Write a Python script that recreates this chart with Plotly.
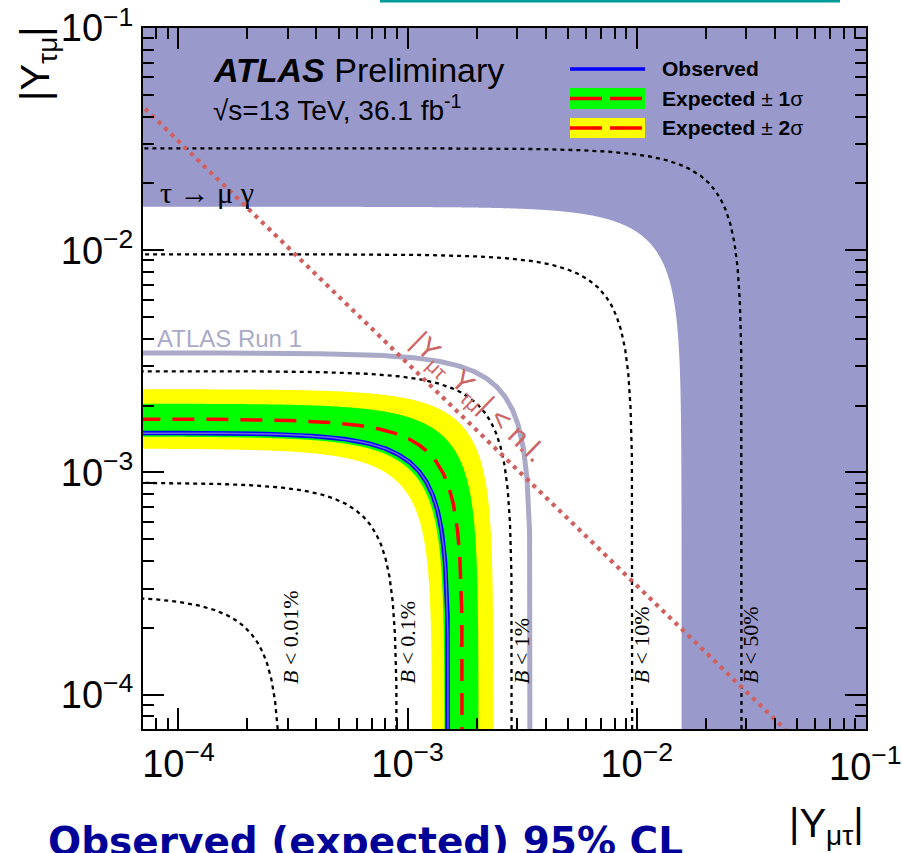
import numpy as np
import plotly.graph_objects as go

# Axis range for both |Y_mu tau| and |Y_tau mu|
axis_min = 7e-5
axis_max = 1e-1
decade_ticks = [1e-4, 1e-3, 1e-2, 1e-1]
decade_labels = ["10<sup>−4</sup>", "10<sup>−3</sup>", "10<sup>−2</sup>", "10<sup>−1</sup>"]

# Limits expressed as the radius sqrt(|Y_mt|^2 + |Y_tm|^2)
taumugamma_r = 1.57e-2          # indirect tau -> mu gamma bound
run1_r = 3.45e-3                # ATLAS Run 1 limit
observed_r = 1.51e-3            # observed 95% CL
expected_r = 1.74e-3            # expected 95% CL
expected_1sigma = [1.45e-3, 2.04e-3]
expected_2sigma = [1.28e-3, 2.37e-3]

# Branching-ratio iso-lines
br_labels = ["0.01%", "0.1%", "1%", "10%", "50%"]
br_radius = [2.8e-4, 9.0e-4, 2.86e-3, 9.6e-3, 2.88e-2]
br_label_x = [290, 407, 521, 641, 750]   # label centres (px)

# Naturalness bound |Y_mt Y_tm| = m_mu m_tau / v^2
naturalness = 3.1e-6

W, H = 902, 853
L, R, T, B = 143, 866, 28, 729


def px(x):
    return (x - L) / (R - L)


def py(y):
    return (B - y) / (B - T)


def arc(r, n=800):
    th = np.linspace(0, np.pi / 2, n)
    return np.maximum(r * np.cos(th), 1e-7), np.maximum(r * np.sin(th), 1e-7)


def band(r_in, r_out):
    xo, yo = arc(r_out)
    xi, yi = arc(r_in)
    return np.concatenate([xo, xi[::-1]]), np.concatenate([yo, yi[::-1]])


fig = go.Figure()

# tau -> mu gamma excluded region (outside the circle)
ax_, ay_ = arc(taumugamma_r)
fig.add_trace(go.Scatter(
    x=np.concatenate([ax_, [1e-7, 1, 1]]),
    y=np.concatenate([ay_, [1, 1, 1e-7]]),
    fill="toself", fillcolor="#9999cc", mode="none", hoverinfo="skip"))

# expected bands
for (lo, hi), col in [(expected_2sigma, "#ffff00"), (expected_1sigma, "#00ff00")]:
    bx, by = band(lo, hi)
    fig.add_trace(go.Scatter(x=bx, y=by, fill="toself", fillcolor=col,
                             mode="none", hoverinfo="skip"))

# expected limit
ex, ey = arc(expected_r)
fig.add_trace(go.Scatter(x=ex, y=ey, mode="lines",
                         line=dict(color="#ff0000", width=3.5, dash="22px,12px"),
                         hoverinfo="skip"))

# observed limit
ox, oy = arc(observed_r)
fig.add_trace(go.Scatter(x=ox, y=oy, mode="lines",
                         line=dict(color="#0000ff", width=4.5), hoverinfo="skip"))
fig.add_trace(go.Scatter(x=ox, y=oy, mode="lines",
                         line=dict(color="#6a6ad8", width=1.5), hoverinfo="skip"))

# branching-ratio iso-lines
for r in br_radius:
    cx, cy = arc(r)
    fig.add_trace(go.Scatter(x=cx, y=cy, mode="lines",
                             line=dict(color="black", width=2.3, dash="4px,4px"),
                             hoverinfo="skip"))

# Run 1 limit
rx, ry = arc(run1_r)
fig.add_trace(go.Scatter(x=rx, y=ry, mode="lines",
                         line=dict(color="#aaaac8", width=5), hoverinfo="skip"))

# naturalness line
nx = np.array([axis_min * 0.5, axis_max * 2])
fig.add_trace(go.Scatter(x=nx, y=naturalness / nx, mode="lines",
                         line=dict(color="#d06060", width=4.2, dash="4px,5px"),
                         hoverinfo="skip"))

tick_font = dict(family="Liberation Sans", size=38, color="black")
axis_common = dict(
    type="log", range=[np.log10(axis_min), np.log10(axis_max) + 0.0008],
    automargin=False,
    showgrid=False, zeroline=False, showline=True, linecolor="black",
    linewidth=2, mirror="allticks", ticks="inside", ticklen=21,
    tickwidth=2, tickcolor="black",
    tickmode="array", tickvals=decade_ticks,
    tickfont=tick_font,
    minor=dict(ticks="inside", ticklen=11, tickwidth=2, tickcolor="black",
               dtick="D1", showgrid=False),
)
xaxis = dict(axis_common, ticktext=decade_labels[:-1] + [""])
yaxis = dict(axis_common, ticktext=decade_labels)

ann = []
sans = "Liberation Sans"
serif = "Liberation Serif"


def text(x, y, s, size, family=sans, color="black", xa="left", ya="middle", angle=0):
    ann.append(dict(x=px(x), y=py(y), xref="paper", yref="paper", text=s,
                    showarrow=False, xanchor=xa, yanchor=ya, textangle=angle,
                    font=dict(family=family, size=size, color=color)))


# last x tick label sits on the right frame edge; place it on the axis scale
ann.append(dict(x=np.log10(decade_ticks[-1]), xref="x", y=py(764), yref="paper",
                text=decade_labels[-1], showarrow=False, xanchor="center",
                yanchor="middle", font=tick_font))

text(211, 70, "<b><i>ATLAS</i></b> Preliminary", 34)
text(211, 108, "√s=13 TeV, 36.1 fb<sup>-1</sup>", 28)
text(660, 69, "<b>Observed</b>", 21)
text(660, 98, "<b>Expected</b> ± <b>1</b>σ", 21)
text(660, 128, "<b>Expected</b> ± <b>2</b>σ", 21)
text(158, 192, "τ → μ γ", 30, family=serif)
text(155, 338, "ATLAS Run 1", 24, color="#aaaac8")
text(477, 398, "|Y<sub>μτ</sub> Y<sub>τμ</sub>| &lt; n.l.", 29,
     color="#cc6666", xa="center", angle=44)
for lab, cx in zip(br_labels, br_label_x):
    text(cx, 686, "<i>B</i> &lt; " + lab, 22, family=serif, xa="center",
         ya="bottom", angle=-90)
text(38, 63, "|Y<sub>τμ</sub>|", 40, xa="center", angle=-90)
text(866, 826, "|Y<sub>μτ</sub>|", 40, xa="right")
text(46, 841, "<b>Observed (expected) 95% CL</b>", 39,
     family="DejaVu Sans", color="#000099")

shapes = []


def hline(x0, x1, y, color, width):
    shapes.append(dict(type="line", xref="paper", yref="paper",
                       x0=px(x0), x1=px(x1), y0=py(y), y1=py(y),
                       line=dict(color=color, width=width)))


def box(x0, x1, y0, y1, color):
    shapes.append(dict(type="rect", xref="paper", yref="paper",
                       x0=px(x0), x1=px(x1), y0=py(y1), y1=py(y0),
                       fillcolor=color, line=dict(width=0)))


# legend keys
hline(570, 645, 69, "#0000ff", 3.5)
box(570, 645, 88, 109, "#00ff00")
hline(570, 602, 98.5, "#ff0000", 3.5)
hline(610, 642, 98.5, "#ff0000", 3.5)
box(570, 645, 118, 138, "#ffff00")
hline(570, 602, 128, "#ff0000", 3.5)
hline(610, 642, 128, "#ff0000", 3.5)

# teal rule along the top edge
hline(380, 840, 1, "#009b96", 3)

fig.update_layout(
    width=W, height=H,
    margin=dict(l=L, r=W - R, t=T, b=H - B, autoexpand=False),
    paper_bgcolor="white", plot_bgcolor="white",
    showlegend=False,
    xaxis=xaxis, yaxis=yaxis,
    annotations=ann, shapes=shapes,
)

fig.write_html("out.html")
